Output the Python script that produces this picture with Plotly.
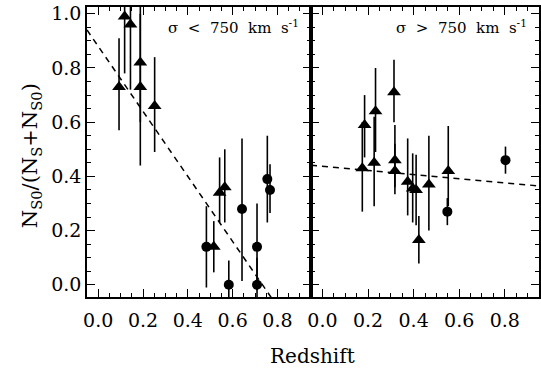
import plotly.graph_objects as go

# ---------------- data ----------------
# Left panel: sigma < 750 km/s
left_z = [0.093, 0.118, 0.144, 0.188, 0.188, 0.252, 0.483, 0.516, 0.542, 0.565,
          0.583, 0.642, 0.709, 0.709, 0.755, 0.767]
left_f = [0.73, 0.99, 0.96, 0.82, 0.73, 0.66, 0.14, 0.14, 0.34, 0.36,
          0.00, 0.28, 0.14, 0.00, 0.39, 0.35]
left_hi = [0.91, 1.10, 1.10, 1.10, 1.00, 0.84, 0.29, 0.235, 0.47, 0.50,
           0.09, 0.54, 0.30, 0.10, 0.55, 0.445]
left_lo = [0.57, 0.78, 0.72, 0.60, 0.44, 0.49, -0.01, 0.046, 0.23, 0.23,
           -0.10, 0.014, -0.02, -0.10, 0.23, 0.265]
left_kind = ["t", "t", "t", "t", "t", "t", "c", "t", "t", "t",
             "c", "c", "c", "c", "c", "c"]

# Right panel: sigma > 750 km/s
right_z = [0.185, 0.175, 0.233, 0.227, 0.314, 0.318, 0.318, 0.374, 0.396, 0.411,
           0.423, 0.467, 0.548, 0.552, 0.803]
right_f = [0.59, 0.43, 0.64, 0.45, 0.71, 0.46, 0.42, 0.38, 0.355, 0.35,
           0.165, 0.37, 0.27, 0.42, 0.46]
right_hi = [0.70, 0.60, 0.80, 0.62, 0.83, 0.59, 0.52, 0.54, 0.485, 0.48,
            0.254, 0.55, 0.32, 0.586, 0.51]
right_lo = [0.47, 0.27, 0.49, 0.29, 0.60, 0.36, 0.334, 0.256, 0.23, 0.22,
            0.079, 0.20, 0.22, 0.29, 0.41]
right_kind = ["t", "t", "t", "t", "t", "t", "t", "t", "t", "t",
              "t", "t", "c", "t", "c"]

# linear fits: (intercept, slope)
left_fit = (0.88, -1.20)
right_fit = (0.437, -0.076)

x_ticks = [0.0, 0.2, 0.4, 0.6, 0.8]
y_ticks = [0.0, 0.2, 0.4, 0.6, 0.8, 1.0]
x_range = [-0.05, 0.95]
y_range = [-0.045, 1.025]

FONT = "DejaVu Serif"

fig = go.Figure()


def add_panel(z, f, hi, lo, kind, fit, xa, ya):
    for k, sym, size in (("t", "triangle-up", 12), ("c", "circle", 10)):
        idx = [i for i, kk in enumerate(kind) if kk == k]
        xs = [z[i] for i in idx]
        ys = [f[i] for i in idx]
        up = [hi[i] - f[i] for i in idx]
        dn = [f[i] - lo[i] for i in idx]
        fig.add_trace(go.Scatter(
            x=xs, y=ys, mode="markers", xaxis=xa, yaxis=ya,
            marker=dict(symbol=sym, size=size, color="black", line=dict(width=0)),
            error_y=dict(type="data", symmetric=False, array=up, arrayminus=dn,
                         color="black", thickness=1.6, width=0),
            showlegend=False, hoverinfo="skip"))
    b, m = fit
    fx = [x_range[0], x_range[1]]
    fy = [b + m * v for v in fx]
    fig.add_trace(go.Scatter(
        x=fx, y=fy, mode="lines", xaxis=xa, yaxis=ya,
        line=dict(color="black", width=1.5, dash="6px,5px"),
        showlegend=False, hoverinfo="skip"))


add_panel(left_z, left_f, left_hi, left_lo, left_kind, left_fit, "x", "y")
add_panel(right_z, right_f, right_hi, right_lo, right_kind, right_fit, "x2", "y2")

split = 225 / 454

axis_common = dict(
    showline=True, linecolor="black", linewidth=1.5, mirror="ticks",
    ticks="inside", ticklen=8, tickwidth=1.2, tickcolor="black",
    showgrid=False, zeroline=False,
    tickfont=dict(family=FONT, size=19, color="black"),
    minor=dict(ticks="inside", ticklen=4, tickwidth=1.2, tickcolor="black",
               dtick=0.05, showgrid=False),
)

xa = dict(axis_common, range=x_range, tickvals=x_ticks,
          ticktext=[f"{v:.1f}" for v in x_ticks], ticklabelstandoff=5)
ya = dict(axis_common, range=y_range, tickvals=y_ticks,
          ticktext=[f"{v:.1f}" for v in y_ticks])

fig.update_layout(
    width=541, height=373,
    margin=dict(l=87, r=0, t=7, b=76),
    paper_bgcolor="white", plot_bgcolor="white",
    xaxis=dict(xa, domain=[0, split], anchor="y"),
    yaxis=dict(ya, domain=[0, 1], anchor="x"),
    xaxis2=dict(xa, domain=[split, 1], anchor="y2"),
    yaxis2=dict(ya, domain=[0, 1], anchor="x2", showticklabels=False),
)

sp = "\u00a0\u00a0"
fig.add_annotation(
    text=f"σ{sp}<{sp}750{sp}km{sp}s<sup>-1</sup>", xref="paper", yref="paper",
    x=(302 - 87) / 454, y=(297 - 27) / 290, xanchor="right", yanchor="middle",
    showarrow=False, font=dict(family=FONT, size=15, color="black"))
fig.add_annotation(
    text=f"σ{sp}>{sp}750{sp}km{sp}s<sup>-1</sup>", xref="paper", yref="paper",
    x=(531 - 87) / 454, y=(297 - 27) / 290, xanchor="right", yanchor="middle",
    showarrow=False, font=dict(family=FONT, size=15, color="black"))

# axis titles
fig.add_annotation(
    text="Redshift", xref="paper", yref="paper",
    x=(313 - 87) / 454, y=(297 - 356) / 290, xanchor="center", yanchor="middle",
    showarrow=False, font=dict(family=FONT, size=20, color="black"))
fig.add_annotation(
    text="N<sub>S0</sub>/(N<sub>S</sub>+N<sub>S0</sub>)", xref="paper", yref="paper",
    x=(31 - 87) / 454, y=(297 - 156) / 290, xanchor="center", yanchor="middle",
    textangle=-90, showarrow=False, font=dict(family=FONT, size=21, color="black"))

fig.write_html("out.html")
